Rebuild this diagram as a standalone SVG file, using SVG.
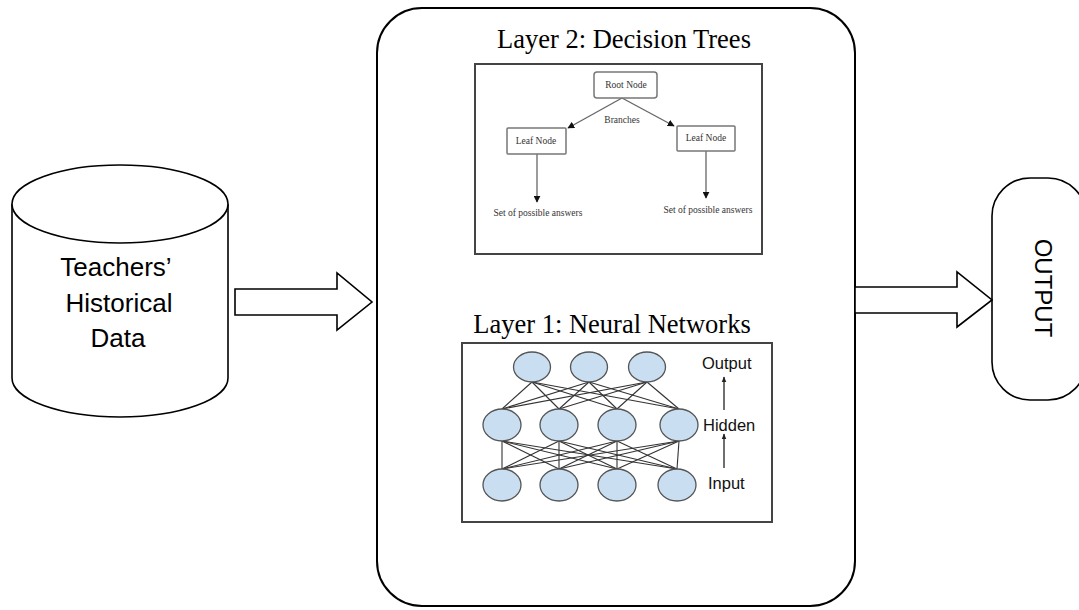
<svg xmlns="http://www.w3.org/2000/svg" width="1079" height="610" viewBox="0 0 1079 610">
<style>
.main{fill:#fff;stroke:#000;stroke-width:2}
.block{fill:#fff;stroke:#000;stroke-width:1.6}
.big{font-family:"Liberation Sans",Arial,sans-serif;font-size:26px;fill:#000;text-anchor:middle}
.title{font-family:"Liberation Serif","Times New Roman",serif;font-size:26.5px;fill:#000;text-anchor:middle}
.frame{fill:#fff;stroke:#444;stroke-width:2}
.tnode{fill:#fff;stroke:#777;stroke-width:1.5}
.tt{font-family:"Liberation Serif","Times New Roman",serif;font-size:9.5px;fill:#333;text-anchor:middle}
.tl{stroke:#666;stroke-width:1.3;fill:none}
.nn{fill:#cadef1;stroke:#555;stroke-width:1.3}
.ne{stroke:#333;stroke-width:1.1}
.nl{font-family:"Liberation Sans",Arial,sans-serif;font-size:16.5px;fill:#111}
.na{stroke:#222;stroke-width:1.3}
</style>
<defs>
<marker id="tri" viewBox="0 0 10 10" refX="9" refY="5" markerWidth="7" markerHeight="7" markerUnits="userSpaceOnUse" orient="auto">
<path d="M0,0 L10,5 L0,10 z" fill="#111"/>
</marker>
<marker id="tri2" viewBox="0 0 10 10" refX="9" refY="5" markerWidth="6" markerHeight="6" markerUnits="userSpaceOnUse" orient="auto">
<path d="M0,1 L10,5 L0,9 z" fill="#222"/>
</marker>
</defs>
<rect width="1079" height="610" fill="#fff"/>

<g id="data-store">
<path class="block" d="M12,204 L12,378 A108,39 0 0 0 228,378 L228,204"/>
<ellipse class="block" cx="120" cy="204" rx="108" ry="39"/>
<text class="big" x="116" y="276">Teachers’</text>
<text class="big" x="119" y="312">Historical</text>
<text class="big" x="118" y="347">Data</text>
</g>

<g id="model">
<rect class="main" x="377" y="8" width="478" height="598" rx="45" ry="45"/>
<text class="title" x="624" y="48">Layer 2: Decision Trees</text>
<text class="title" x="612" y="333">Layer 1: Neural Networks</text>
</g>

<g id="decision-tree">
<rect class="frame" x="475" y="64" width="287" height="190"/>
<line class="tl" x1="622" y1="98" x2="568" y2="128" marker-end="url(#tri)"/>
<line class="tl" x1="622" y1="98" x2="674" y2="126" marker-end="url(#tri)"/>
<line class="tl" x1="537" y1="154" x2="537" y2="202" marker-end="url(#tri)"/>
<line class="tl" x1="706" y1="151" x2="706" y2="198" marker-end="url(#tri)"/>
<rect class="tnode" x="594" y="72" width="63" height="26" rx="3"/>
<text class="tt" x="626" y="88">Root Node</text>
<text class="tt" x="622" y="123">Branches</text>
<rect class="tnode" x="507" y="128" width="59" height="26" rx="1"/>
<text class="tt" x="536" y="144">Leaf Node</text>
<rect class="tnode" x="677" y="126" width="58" height="25" rx="1"/>
<text class="tt" x="706" y="141">Leaf Node</text>
<text class="tt" x="538" y="216">Set of possible answers</text>
<text class="tt" x="708" y="213">Set of possible answers</text>
</g>

<g id="neural-network">
<rect class="frame" x="462" y="343" width="310" height="179"/>
<g class="ne">
<line x1="532" y1="382" x2="502" y2="409"/><line x1="532" y1="382" x2="559" y2="409"/><line x1="532" y1="382" x2="617" y2="409"/><line x1="532" y1="382" x2="679" y2="409"/>
<line x1="589" y1="382" x2="502" y2="409"/><line x1="589" y1="382" x2="559" y2="409"/><line x1="589" y1="382" x2="617" y2="409"/><line x1="589" y1="382" x2="679" y2="409"/>
<line x1="647" y1="382" x2="502" y2="409"/><line x1="647" y1="382" x2="559" y2="409"/><line x1="647" y1="382" x2="617" y2="409"/><line x1="647" y1="382" x2="679" y2="409"/>
<line x1="502" y1="441" x2="502" y2="469"/><line x1="502" y1="441" x2="559" y2="469"/><line x1="502" y1="441" x2="617" y2="469"/><line x1="502" y1="441" x2="677" y2="469"/>
<line x1="559" y1="441" x2="502" y2="469"/><line x1="559" y1="441" x2="559" y2="469"/><line x1="559" y1="441" x2="617" y2="469"/><line x1="559" y1="441" x2="677" y2="469"/>
<line x1="617" y1="441" x2="502" y2="469"/><line x1="617" y1="441" x2="559" y2="469"/><line x1="617" y1="441" x2="617" y2="469"/><line x1="617" y1="441" x2="677" y2="469"/>
<line x1="679" y1="441" x2="502" y2="469"/><line x1="679" y1="441" x2="559" y2="469"/><line x1="679" y1="441" x2="617" y2="469"/><line x1="679" y1="441" x2="677" y2="469"/>
</g>
<ellipse class="nn" cx="532" cy="367" rx="18.5" ry="15"/>
<ellipse class="nn" cx="589" cy="367" rx="18.5" ry="15"/>
<ellipse class="nn" cx="647" cy="367" rx="18.5" ry="15"/>
<ellipse class="nn" cx="502" cy="425" rx="19" ry="16"/>
<ellipse class="nn" cx="559" cy="425" rx="19" ry="16"/>
<ellipse class="nn" cx="617" cy="425" rx="19" ry="16"/>
<ellipse class="nn" cx="679" cy="425" rx="19" ry="16"/>
<ellipse class="nn" cx="502" cy="485" rx="19" ry="16"/>
<ellipse class="nn" cx="559" cy="485" rx="19" ry="16"/>
<ellipse class="nn" cx="617" cy="485" rx="19" ry="16"/>
<ellipse class="nn" cx="677" cy="485" rx="19" ry="16"/>
<text class="nl" x="702" y="369">Output</text>
<text class="nl" x="703" y="431">Hidden</text>
<text class="nl" x="708" y="489">Input</text>
<line class="na" x1="724" y1="410" x2="724" y2="377" marker-end="url(#tri2)"/>
<line class="na" x1="724" y1="468" x2="724" y2="434" marker-end="url(#tri2)"/>
</g>

<g id="output">
<rect class="block" x="992" y="178" width="94" height="222" rx="38" ry="38"/>
<text class="big" font-size="24" style="font-size:24px" transform="translate(1035,288) rotate(90)" x="0" y="0">OUTPUT</text>
</g>

<g id="connectors">
<polygon class="block" points="235,289 337,289 337,273 372,302 337,330 337,315 235,315"/>
<polygon class="block" points="855,287 957,287 957,272 992,300 957,327 957,313 855,313"/>
</g>
</svg>
